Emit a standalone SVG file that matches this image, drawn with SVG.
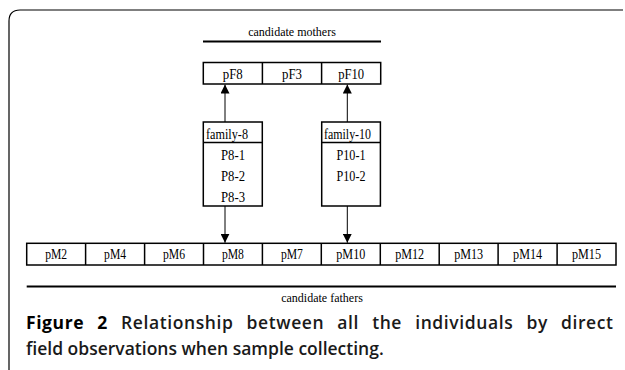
<svg xmlns="http://www.w3.org/2000/svg" width="625" height="370" viewBox="0 0 625 370">
<style>
.t{font-family:"Liberation Serif","Times New Roman",serif;fill:#000}
.c{font-size:15px;text-anchor:middle}
.lab{font-size:12px;text-anchor:middle}
.box{fill:#fff;stroke:#000;stroke-width:1.5}
.ln{stroke:#000;stroke-width:1.5}
.cap{font-family:"Open Sans","Liberation Sans",sans-serif;font-size:17.5px;fill:#1a1a1a}
</style>
<defs>
<marker id="ah" viewBox="0 0 10 10" refX="10" refY="5" markerWidth="9" markerHeight="9" markerUnits="userSpaceOnUse" orient="auto">
<path d="M0,0 L10,5 L0,10 Z" fill="#000"/>
</marker>
</defs>
<rect width="625" height="370" fill="#fff"/>
<path d="M9,370 L9,21 Q9,10 20,10 L623,10" fill="none" stroke="#000" stroke-width="1.2"/>

<g id="mothers-label">
<text class="t lab" x="292" y="36">candidate mothers</text>
<line x1="203" y1="41.5" x2="381" y2="41.5" stroke="#000" stroke-width="2"/>
</g>

<g id="mothers">
<rect class="box" x="203.3" y="62.5" width="177.4" height="21.5"/>
<line class="ln" x1="262.4" y1="62.5" x2="262.4" y2="84"/>
<line class="ln" x1="321.6" y1="62.5" x2="321.6" y2="84"/>
<text class="t c" x="232.8" y="79" textLength="20" lengthAdjust="spacingAndGlyphs">pF8</text>
<text class="t c" x="292" y="79" textLength="20" lengthAdjust="spacingAndGlyphs">pF3</text>
<text class="t c" x="351.2" y="79" textLength="26" lengthAdjust="spacingAndGlyphs">pF10</text>
</g>

<g id="family-8">
<rect class="box" x="203.3" y="122" width="59" height="84"/>
<line class="ln" x1="203.3" y1="142.5" x2="262.3" y2="142.5"/>
<text class="t" font-size="15" x="206" y="139" textLength="42" lengthAdjust="spacingAndGlyphs">family-8</text>
<text class="t c" x="233" y="160" textLength="24" lengthAdjust="spacingAndGlyphs">P8-1</text>
<text class="t c" x="233" y="181" textLength="24" lengthAdjust="spacingAndGlyphs">P8-2</text>
<text class="t c" x="233" y="202" textLength="24" lengthAdjust="spacingAndGlyphs">P8-3</text>
</g>

<g id="family-10">
<rect class="box" x="321.7" y="122" width="58.7" height="84"/>
<line class="ln" x1="321.7" y1="142.5" x2="380.4" y2="142.5"/>
<text class="t" font-size="15" x="324" y="139" textLength="47" lengthAdjust="spacingAndGlyphs">family-10</text>
<text class="t c" x="351" y="160" textLength="29" lengthAdjust="spacingAndGlyphs">P10-1</text>
<text class="t c" x="351" y="181" textLength="29" lengthAdjust="spacingAndGlyphs">P10-2</text>
</g>

<g id="fathers">
<rect class="box" x="26.7" y="243.3" width="589.3" height="21.7"/>
<line class="ln" x1="85.6" y1="243.3" x2="85.6" y2="265"/>
<line class="ln" x1="144.6" y1="243.3" x2="144.6" y2="265"/>
<line class="ln" x1="203.5" y1="243.3" x2="203.5" y2="265"/>
<line class="ln" x1="262.4" y1="243.3" x2="262.4" y2="265"/>
<line class="ln" x1="321.3" y1="243.3" x2="321.3" y2="265"/>
<line class="ln" x1="380.3" y1="243.3" x2="380.3" y2="265"/>
<line class="ln" x1="439.2" y1="243.3" x2="439.2" y2="265"/>
<line class="ln" x1="498.1" y1="243.3" x2="498.1" y2="265"/>
<line class="ln" x1="557.1" y1="243.3" x2="557.1" y2="265"/>
<text class="t c" x="56.2" y="259" textLength="22" lengthAdjust="spacingAndGlyphs">pM2</text>
<text class="t c" x="115.1" y="259" textLength="22" lengthAdjust="spacingAndGlyphs">pM4</text>
<text class="t c" x="174" y="259" textLength="22" lengthAdjust="spacingAndGlyphs">pM6</text>
<text class="t c" x="232.9" y="259" textLength="22" lengthAdjust="spacingAndGlyphs">pM8</text>
<text class="t c" x="291.9" y="259" textLength="22" lengthAdjust="spacingAndGlyphs">pM7</text>
<text class="t c" x="350.8" y="259" textLength="29" lengthAdjust="spacingAndGlyphs">pM10</text>
<text class="t c" x="409.7" y="259" textLength="29" lengthAdjust="spacingAndGlyphs">pM12</text>
<text class="t c" x="468.7" y="259" textLength="29" lengthAdjust="spacingAndGlyphs">pM13</text>
<text class="t c" x="527.6" y="259" textLength="29" lengthAdjust="spacingAndGlyphs">pM14</text>
<text class="t c" x="586.5" y="259" textLength="29" lengthAdjust="spacingAndGlyphs">pM15</text>
</g>

<g id="fathers-label">
<line x1="26.7" y1="286.5" x2="616" y2="286.5" stroke="#000" stroke-width="2"/>
<text class="t lab" x="322" y="302">candidate fathers</text>
</g>

<g id="connectors">
<line x1="225" y1="122" x2="225" y2="84.5" stroke="#000" stroke-width="1" marker-end="url(#ah)"/>
<line x1="347.3" y1="122" x2="347.3" y2="84.5" stroke="#000" stroke-width="1" marker-end="url(#ah)"/>
<line x1="225" y1="206" x2="225" y2="242.8" stroke="#000" stroke-width="1" marker-end="url(#ah)"/>
<line x1="347.3" y1="206" x2="347.3" y2="242.8" stroke="#000" stroke-width="1" marker-end="url(#ah)"/>
</g>

<g id="caption">
<text class="cap" x="26" y="329" word-spacing="8" textLength="587" lengthAdjust="spacing"><tspan font-weight="700" fill="#000">Figure 2</tspan><tspan font-weight="600"> Relationship between all the individuals by direct</tspan></text>
<text class="cap" x="26" y="355" font-weight="600">field observations when sample collecting.</text>
</g>
</svg>
